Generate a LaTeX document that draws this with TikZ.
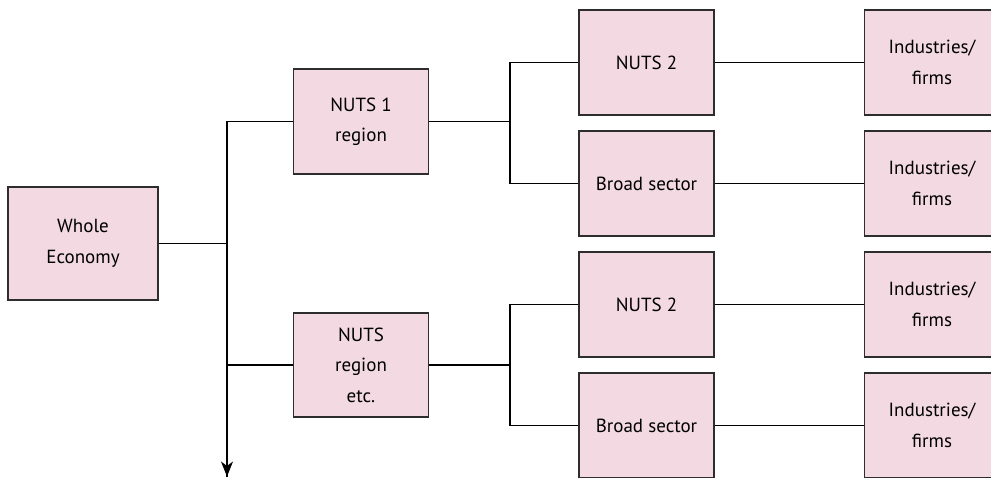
\documentclass[tikz,border=0pt]{standalone}
\usepackage{fontspec}
\setmainfont{PT Sans}
\usetikzlibrary{arrows.meta}
\definecolor{boxfill}{RGB}{243,217,225}
\definecolor{boxline}{RGB}{45,45,45}
\tikzset{
  levelbox/.style={draw=boxline, fill=boxfill, line width=1.2pt,
    minimum width=135pt, minimum height=105pt, inner sep=0pt,
    align=center, font=\fontsize{19}{30.5}\selectfont},
  link/.style={draw=black, line width=1.2pt}
}
\begin{document}
\begin{tikzpicture}[x=1pt, y=-1pt]
  \useasboundingbox (0,0) rectangle (991,477);
  \clip (0,0) rectangle (991,477);

  % top level
  \node[levelbox, minimum width=150pt, minimum height=113pt] (whole) at (83,243.5) {Whole\\Economy};

  % regional level
  \node[levelbox] (nuts1) at (361,121.5) {NUTS 1\\region};
  \node[levelbox, minimum height=104pt] (nutsetc) at (361,365) {NUTS\\region\\etc.};

  % sub-regional / sector level
  \node[levelbox] (nuts2a) at (646.5,62.5) {NUTS 2};
  \node[levelbox] (broada) at (646.5,183.5) {Broad sector};
  \node[levelbox] (nuts2b) at (646.5,304.5) {NUTS 2};
  \node[levelbox] (broadb) at (646.5,425.5) {Broad sector};

  % industry level
  \node[levelbox] (ind1) at (932,62.5) {Industries/\\firms};
  \node[levelbox] (ind2) at (932,183.5) {Industries/\\firms};
  \node[levelbox] (ind3) at (932,304.5) {Industries/\\firms};
  \node[levelbox] (ind4) at (932,425.5) {Industries/\\firms};

  % junction points
  \coordinate (trunkend) at (227,476.5);
  \coordinate (fork1) at (510,121.5);
  \coordinate (fork2) at (510,365);

  % main trunk with arrow
  \draw[link] (nuts1.west) -| (trunkend);
  \draw[link, -{Stealth[length=15pt, width=12pt, inset=4.5pt]}] (227,440) -- (trunkend);
  \draw[link] (whole.east) -- (whole.east -| trunkend);
  \draw[link] (nutsetc.west) -- (nutsetc.west -| trunkend);

  % forks to the third column
  \draw[link] (nuts1.east) -- (fork1);
  \draw[link] (nuts2a.west) -| (fork1) |- (broada.west);
  \draw[link] (nutsetc.east) -- (fork2);
  \draw[link] (nuts2b.west) -| (fork2) |- (broadb.west);

  % links to industries
  \draw[link] (nuts2a.east) -- (ind1.west);
  \draw[link] (broada.east) -- (ind2.west);
  \draw[link] (nuts2b.east) -- (ind3.west);
  \draw[link] (broadb.east) -- (ind4.west);
\end{tikzpicture}
\end{document}
